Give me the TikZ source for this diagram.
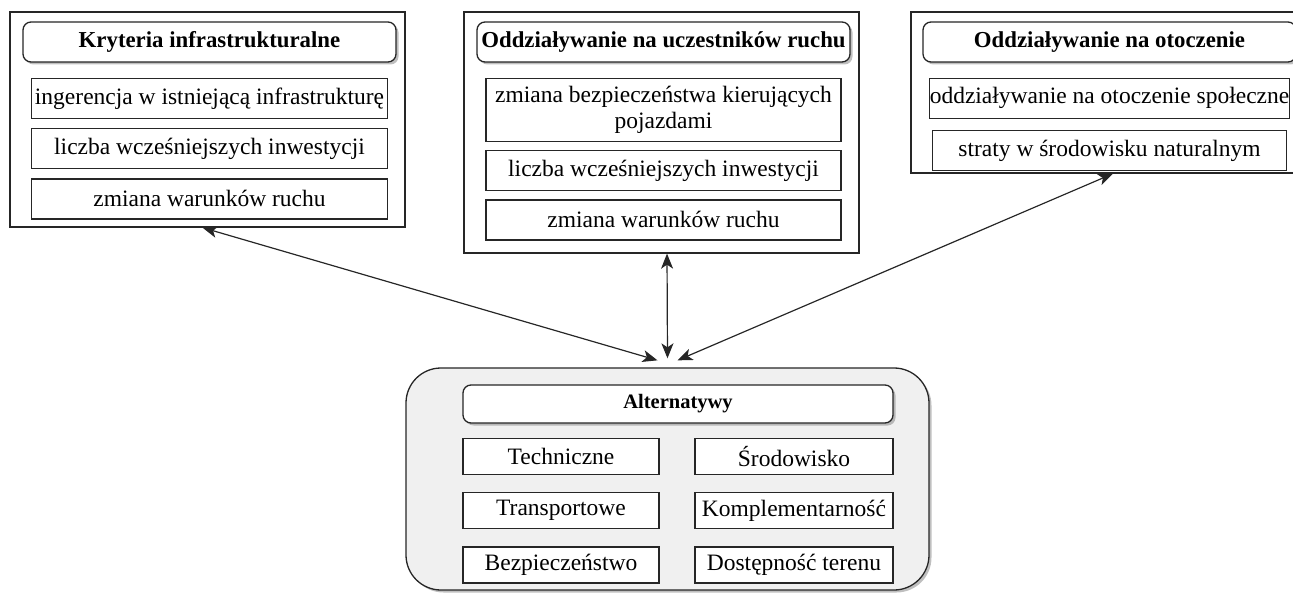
\documentclass[tikz,border=0pt]{standalone}
\usepackage{fontspec}
\setmainfont{Liberation Serif}
\usetikzlibrary{positioning,arrows.meta,shadows}

\begin{document}
\begin{tikzpicture}[x=1pt, y=-1pt,
  ramka/.style={draw=black!85, line width=1.3pt, inner sep=0pt},
  naglowek/.style={draw=black!85, line width=1.3pt, rounded corners=8pt, fill=white,
                   minimum height=40pt, inner sep=0pt,
                   font=\fontsize{22.8}{26}\selectfont\bfseries,
                   drop shadow={shadow xshift=2.5pt, shadow yshift=-2.5pt, fill=black!50}},
  pole/.style={draw=black!85, line width=1.3pt, fill=white, minimum height=40pt,
               inner sep=0pt, align=center, font=\fontsize{23.5}{26}\selectfont},
  strzalka/.style={{Stealth[length=15pt,width=12pt,inset=4pt]}-{Stealth[length=15pt,width=12pt,inset=4pt]},
                   line width=1.2pt, color=black!85}]
  \useasboundingbox (0,0) rectangle (1293,593);
  \clip (0,0) rectangle (1293,593);
  \node[ramka, minimum width=395pt, minimum height=215pt] (infra) at (207.5,119.5) {};
  \node[ramka, minimum width=395pt, minimum height=241pt] (uczest) at (661.5,132.5) {};
  \node[ramka, minimum width=395pt, minimum height=161pt] (otocz) at (1108.5,92.5) {};
  \node[naglowek, minimum width=373pt] (kryt) at (209.5,42) {Kryteria infrastrukturalne};
  \node[pole, minimum width=356pt, below=15pt of kryt] (k1) {ingerencja w istniejącą infrastrukturę};
  \node[pole, minimum width=356pt, below=9pt of k1] (k2) {liczba wcześniejszych inwestycji};
  \node[pole, minimum width=356pt, below=9pt of k2] (k3) {zmiana warunków ruchu};
  \node[naglowek, minimum width=373pt] (odd) at (663.5,42) {Oddziaływanie na uczestników ruchu};
  \node[pole, minimum width=355pt, minimum height=63pt, below=15pt of odd] (u1)
    {zmiana bezpieczeństwa kierujących\\pojazdami};
  \node[pole, minimum width=355pt, below=8pt of u1] (u2) {liczba wcześniejszych inwestycji};
  \node[pole, minimum width=355pt, below=8pt of u2] (u3) {zmiana warunków ruchu};
  \node[naglowek, minimum width=373pt] (oto) at (1109.5,42) {Oddziaływanie na otoczenie};
  \node[pole, minimum width=354pt, below=15pt of oto] (o1) {oddziaływanie na otoczenie społeczne};
  \node[pole, minimum width=354pt, below=11pt of o1] (o2) {straty w środowisku naturalnym};
  \node[ramka, rounded corners=35pt, fill=black!6, minimum width=523pt, minimum height=222pt,
        drop shadow={shadow xshift=2.5pt, shadow yshift=-2.5pt, fill=black!50}] (alt) at (667.5,479) {};
  \node[naglowek, minimum width=430pt, minimum height=38pt,
        font=\fontsize{20.5}{24}\selectfont\bfseries] (altn) at (678,404) {Alternatywy};
  \node[pole, minimum width=196pt, minimum height=36pt, below right=14pt and 0pt of altn.south west] (a1) {Techniczne};
  \node[pole, minimum width=196pt, minimum height=36pt, below=17pt of a1] (a2) {Transportowe};
  \node[pole, minimum width=196pt, minimum height=36pt, below=17pt of a2] (a3) {Bezpieczeństwo};
  \node[pole, minimum width=198pt, minimum height=36pt, below left=14pt and 0pt of altn.south east] (b1) {Środowisko};
  \node[pole, minimum width=198pt, minimum height=36pt, below=17pt of b1] (b2) {Komplementarność};
  \node[pole, minimum width=198pt, minimum height=36pt, below=17pt of b2] (b3) {Dostępność terenu};
  \draw[strzalka] ([xshift=-5pt]infra.south) -- ([xshift=-10pt,yshift=7pt]alt.north);
  \draw[strzalka] ([xshift=5.5pt]uczest.south) -- ([yshift=9pt]alt.north);
  \draw[strzalka] ([xshift=4.5pt]otocz.south) -- ([xshift=10pt,yshift=7pt]alt.north);
\end{tikzpicture}
\end{document}
